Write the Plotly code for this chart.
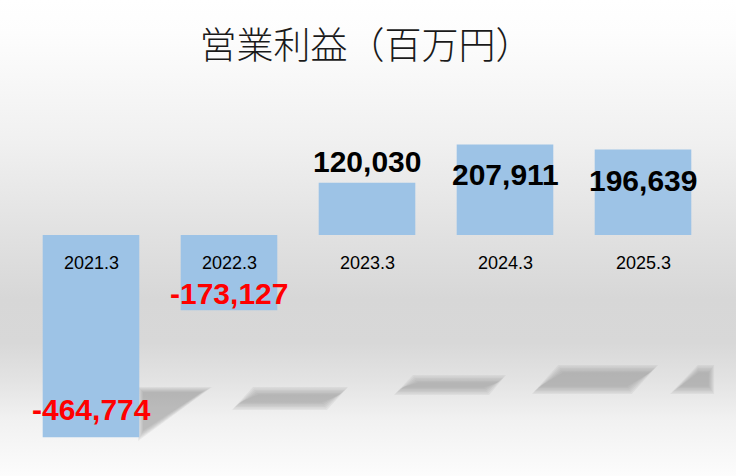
"""営業利益（百万円）棒グラフ。"""

import plotly.graph_objects as go

# データ
categories = ["2021.3", "2022.3", "2023.3", "2024.3", "2025.3"]
operating_profit = [-464774, -173127, 120030, 207911, 196639]
value_labels = ["-464,774", "-173,127", "120,030", "207,911", "196,639"]
label_colors = ["#FF0000", "#FF0000", "#000000", "#000000", "#000000"]

# レイアウト（画面ピクセル基準）
W, H = 736, 476
ZERO_PX = 235          # 0 の位置
UNITS_PER_PX = 2298    # 縦軸スケール
CAT_PX = 138           # カテゴリ間隔
FIRST_CAT_PX = 91      # 最初のカテゴリ中心
label_yshift = [28, 16.5, 21.5, -30, -31]

# 背景グラデーション（上→下の位置, 色）
bg_stops = [
    (0.00, "#ffffff"), (0.07, "#fdfdfd"), (0.30, "#f0f0f0"),
    (0.48, "#e2e2e2"), (0.63, "#d7d7d7"), (0.72, "#d8d8d8"),
    (0.80, "#e3e3e3"), (0.88, "#f1f1f1"), (1.00, "#fcfcfc"),
]

# 床の影（装飾、ピクセル座標）
shadows = [
    [(140, 389), (208, 389), (140, 437)],
    [(255, 390), (345, 390), (325, 407), (235, 407)],
    [(415, 378), (503, 378), (487, 392), (397, 392)],
    [(560, 368), (655, 368), (630, 391), (535, 391)],
    [(698, 368), (712, 368), (712, 391), (674, 391)],
]


def inset(pts, k):
    """重心まわりに k px だけ縮める（負なら広げる）。"""
    xs = [p[0] for p in pts]
    ys = [p[1] for p in pts]
    cx, cy = sum(xs) / len(xs), sum(ys) / len(ys)
    w, h = max(xs) - min(xs), max(ys) - min(ys)
    sx = max((w - 2 * k) / w, 0.05)
    sy = max((h - 2 * k) / h, 0.05)
    return [(cx + (x - cx) * sx, cy + (y - cy) * sy) for x, y in pts]


fig = go.Figure()

# 背景（fillgradient は画面の下→上の順）
fig.add_trace(go.Scatter(
    x=[0, W, W, 0, 0], y=[0, 0, H, H, 0], mode="lines", fill="toself",
    line=dict(width=0), fillcolor="#e0e0e0",
    fillgradient=dict(type="vertical",
                      colorscale=[(1 - p, c) for p, c in reversed(bg_stops)]),
    hoverinfo="skip", showlegend=False,
))

# 影（縮めた多角形を重ねてぼかし風に）
for pts in shadows:
    for k in [-3, -1.5, 0, 1.5, 3, 4.5]:
        q = inset(pts, k)
        fig.add_trace(go.Scatter(
            x=[p[0] for p in q] + [q[0][0]], y=[p[1] for p in q] + [q[0][1]],
            mode="lines", fill="toself", line=dict(width=0),
            fillcolor="rgba(140,140,140,0.11)",
            hoverinfo="skip", showlegend=False,
        ))

# 棒
fig.add_trace(go.Bar(
    x=categories, y=operating_profit, marker_color="#9DC3E6",
    marker_line_width=0, xaxis="x2", yaxis="y2", showlegend=False,
))

# 数値ラベル
for i, (val, txt, col, dy) in enumerate(zip(operating_profit, value_labels,
                                            label_colors, label_yshift)):
    fig.add_annotation(
        x=i, y=val, xref="x2", yref="y2", text=txt, showarrow=False,
        yanchor="middle", yshift=dy,
        font=dict(family="Liberation Sans, Arial, sans-serif", size=30,
                  color=col, weight="bold"),
    )

# カテゴリラベル（0 の少し下）
for i, cat in enumerate(categories):
    fig.add_annotation(
        x=i, y=0, xref="x2", yref="y2", text=cat, showarrow=False,
        yanchor="middle", yshift=-27.5,
        font=dict(family="Liberation Sans, Arial, sans-serif", size=18,
                  color="#000000"),
    )

fig.update_layout(
    width=W, height=H, autosize=False,
    margin=dict(l=0, r=0, t=0, b=0),
    paper_bgcolor="#ffffff", plot_bgcolor="#ffffff",
    bargap=0.3,
    title=dict(
        text="営業利益（百万円）", x=366 / W, xanchor="center",
        y=1 - 46 / H, yanchor="middle",
        font=dict(family="Noto Sans CJK JP, sans-serif", size=37,
                  color="#1a1a1a", weight=300),
    ),
    xaxis=dict(range=[0, W], visible=False, fixedrange=True),
    yaxis=dict(range=[H, 0], visible=False, fixedrange=True),
    xaxis2=dict(
        type="category", overlaying="x", visible=False, fixedrange=True,
        range=[-FIRST_CAT_PX / CAT_PX, (W - FIRST_CAT_PX) / CAT_PX],
    ),
    yaxis2=dict(
        overlaying="y", visible=False, fixedrange=True,
        range=[-(H - ZERO_PX) * UNITS_PER_PX, ZERO_PX * UNITS_PER_PX],
    ),
)

fig.write_html("out.html", config={"displayModeBar": False},
               post_script="document.body.style.margin='0';")
